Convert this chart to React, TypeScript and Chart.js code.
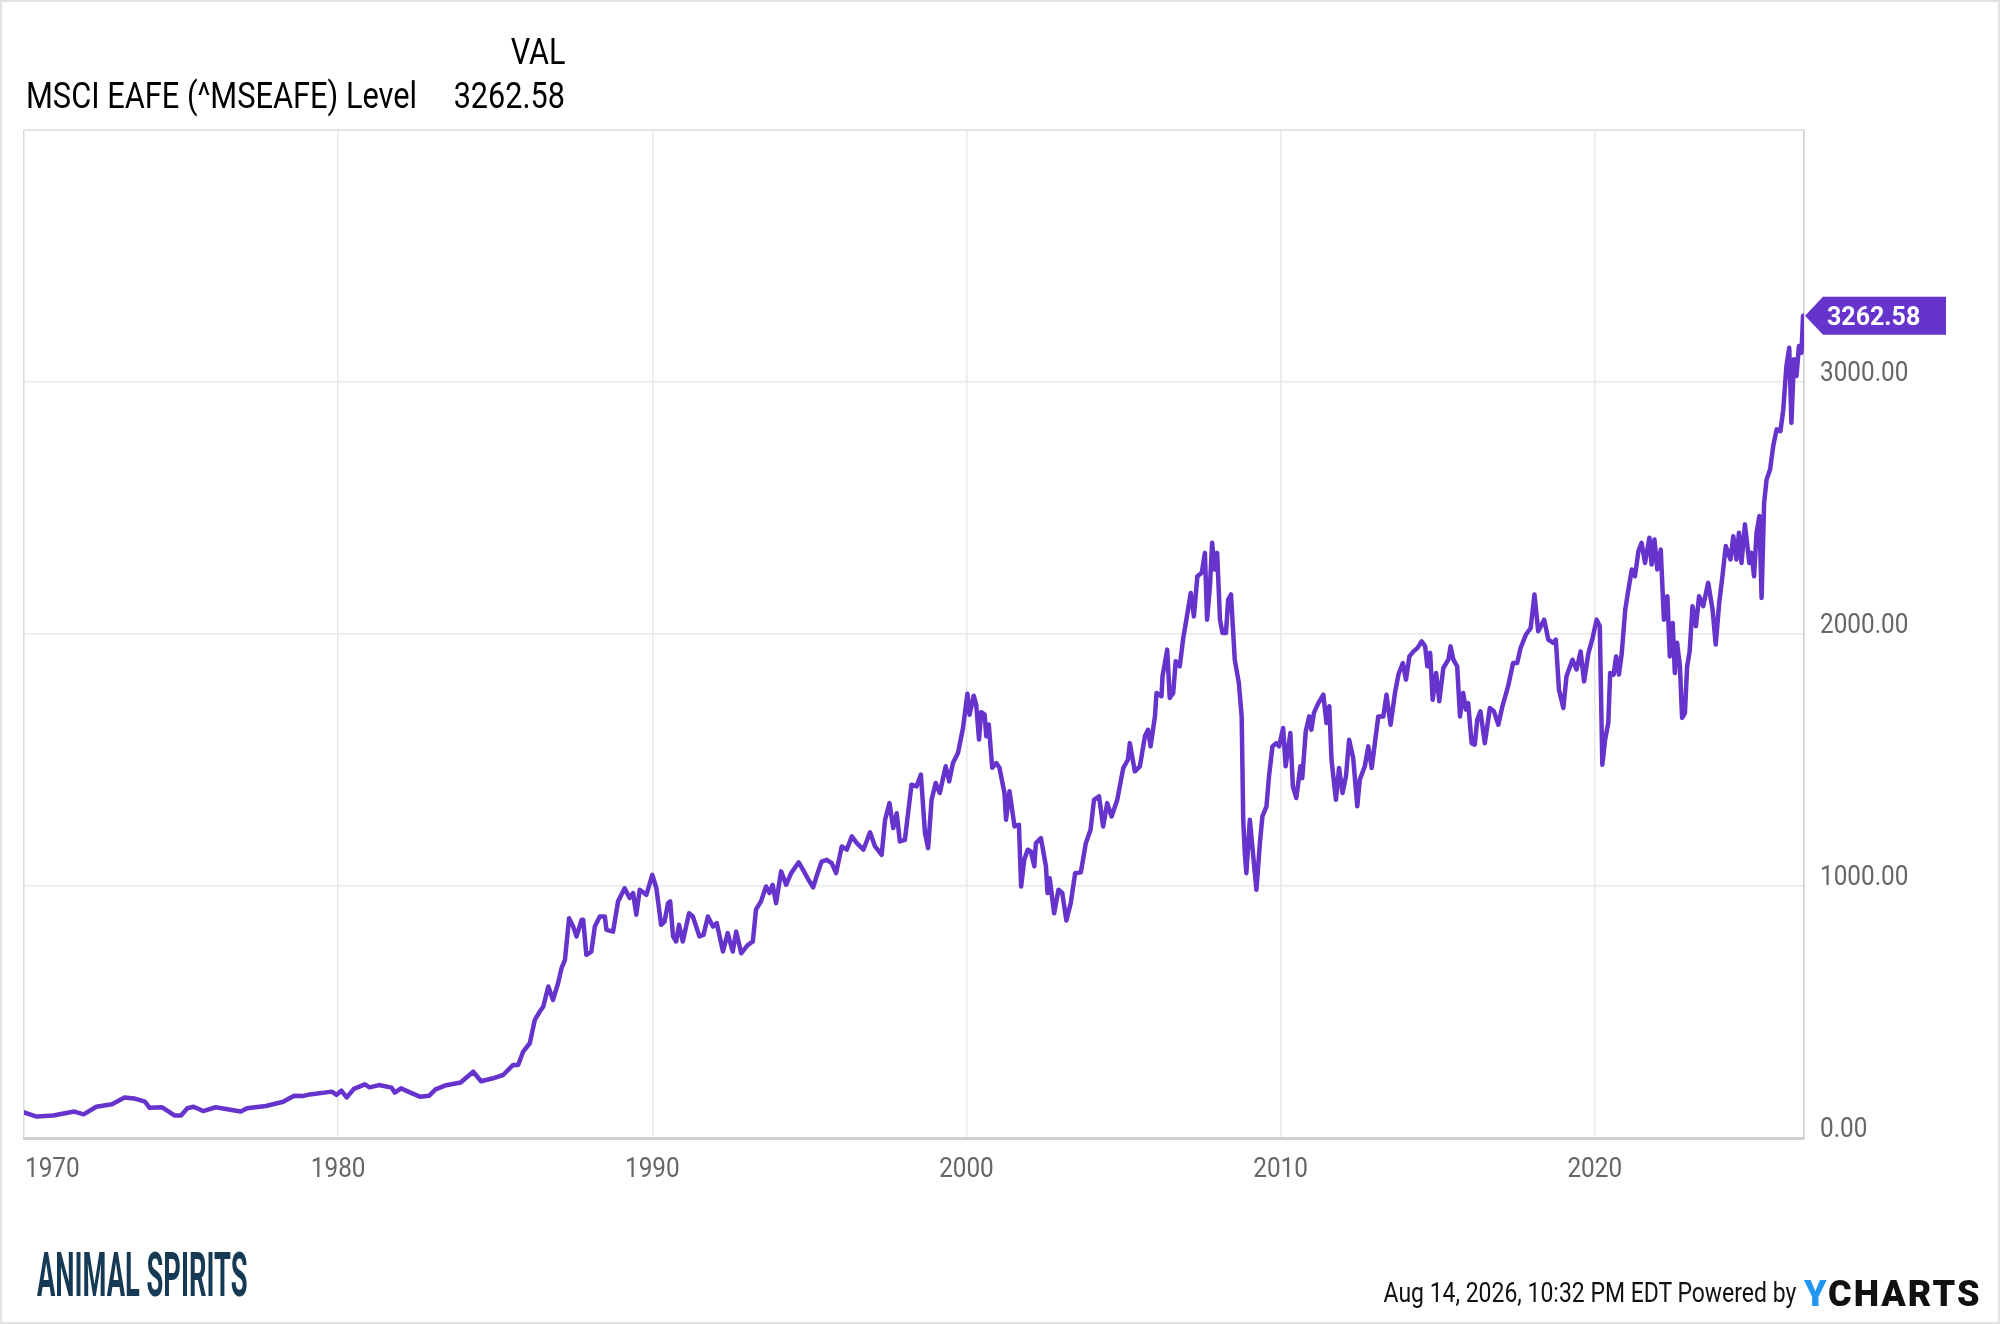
import { useEffect, useRef } from 'react';
import { Chart, registerables } from 'chart.js';

Chart.register(...registerables);

const PURPLE = '#6633cc';
const LAST_LEVEL = 3262.58;

// MSCI EAFE level, split by era (x = decimal year)
const dates1970s = [
  1970.0, 1970.4, 1970.93, 1971.6, 1971.9,
  1972.3, 1972.8, 1973.2, 1973.5, 1973.85,
  1974.0, 1974.4, 1974.8, 1975.0, 1975.2,
  1975.4, 1975.7, 1976.1, 1976.9, 1977.1,
  1977.7, 1978.25, 1978.6, 1978.9, 1979.1,
  1979.8, 1979.95, 1980.1, 1980.27, 1980.5,
  1980.85, 1981.0, 1981.3, 1981.7, 1981.8,
  1982.0, 1982.3, 1982.6, 1982.9, 1983.1,
  1983.4, 1983.9, 1984.3,
];
const levels1970s = [
  102, 85, 89, 105, 94,
  124, 134, 161, 157, 144,
  120, 122, 89, 89, 118,
  124, 107, 122, 105, 118,
  127, 144, 168, 167, 173,
  184, 171, 188, 161, 195,
  213, 201, 210, 200, 180,
  197, 180, 164, 168, 193,
  208, 220, 263,
];

const dates1980s = [
  1984.55, 1984.93, 1985.25, 1985.57, 1985.73,
  1985.89, 1986.1, 1986.26, 1986.42, 1986.53,
  1986.69, 1986.84, 1987.0, 1987.11, 1987.22,
  1987.35, 1987.48, 1987.59, 1987.75, 1987.8,
  1987.9, 1988.06, 1988.17, 1988.33, 1988.49,
  1988.54, 1988.75, 1988.91, 1989.12, 1989.28,
  1989.39, 1989.49, 1989.6, 1989.81, 1990.0,
  1990.13, 1990.28, 1990.39, 1990.5, 1990.57,
  1990.66, 1990.76, 1990.85, 1990.97, 1991.17,
  1991.29, 1991.5, 1991.63, 1991.77, 1991.93,
  1992.05, 1992.25, 1992.4, 1992.56, 1992.67,
  1992.83, 1993.04, 1993.2, 1993.3, 1993.46,
  1993.62, 1993.73, 1993.83, 1993.94, 1994.1,
  1994.26, 1994.42, 1994.66,
];
const levels1980s = [
  225, 237, 250, 290, 290,
  343, 376, 469, 502, 522,
  601, 548, 614, 674, 707,
  872, 839, 800, 866, 866,
  727, 740, 839, 879, 879,
  826, 819, 939, 991, 952,
  972, 886, 985, 965, 1044,
  991, 846, 859, 932, 939,
  800, 780, 846, 780, 892,
  879, 800, 806, 879, 839,
  853, 740, 813, 740, 819,
  733, 766, 780, 906, 939,
  998, 972, 1005, 932, 1058,
  1005, 1051, 1094,
];

const dates1990s = [
  1994.8, 1994.97, 1995.12, 1995.28, 1995.39,
  1995.55, 1995.71, 1995.85, 1996.03, 1996.19,
  1996.35, 1996.51, 1996.72, 1996.93, 1997.09,
  1997.3, 1997.41, 1997.55, 1997.67, 1997.78,
  1997.88, 1998.04, 1998.25, 1998.41, 1998.55,
  1998.68, 1998.78, 1998.89, 1999.02, 1999.15,
  1999.34, 1999.45, 1999.57, 1999.73, 1999.89,
  2000.03, 2000.1, 2000.23, 2000.31, 2000.4,
  2000.47, 2000.58, 2000.63, 2000.71, 2000.82,
  2000.95, 2001.05, 2001.21, 2001.26, 2001.37,
  2001.53, 2001.67, 2001.74, 2001.84, 2001.95,
  2002.05, 2002.16, 2002.21, 2002.37, 2002.53,
  2002.58, 2002.65, 2002.79, 2002.93, 2003.05,
  2003.18, 2003.32, 2003.46, 2003.64, 2003.8,
  2003.95, 2004.06, 2004.22, 2004.35, 2004.48,
  2004.62, 2004.8,
];
const levels1990s = [
  1064, 1025, 995, 1058, 1097,
  1104, 1091, 1051, 1157, 1144,
  1197, 1170, 1144, 1213, 1157,
  1124, 1263, 1329, 1230, 1289,
  1177, 1183, 1402, 1395, 1442,
  1210, 1150, 1342, 1409, 1369,
  1475, 1415, 1488, 1528, 1627,
  1763, 1680, 1755, 1720, 1581,
  1690, 1680, 1594, 1641, 1469,
  1488, 1469, 1369, 1263, 1376,
  1236, 1243, 998, 1104, 1144,
  1137, 1078, 1170, 1190, 1078,
  972, 1031, 892, 985, 972,
  863, 932, 1051, 1054, 1170,
  1223, 1342, 1356, 1236, 1329,
  1276, 1342,
];

const dates2000s = [
  2004.99, 2005.14, 2005.2, 2005.36, 2005.52,
  2005.68, 2005.78, 2005.86, 2006.0, 2006.05,
  2006.21, 2006.24, 2006.39, 2006.47, 2006.58,
  2006.66, 2006.79, 2006.9, 2007.0, 2007.14,
  2007.24, 2007.35, 2007.49, 2007.59, 2007.66,
  2007.75, 2007.82, 2007.9, 2007.98, 2008.07,
  2008.15, 2008.26, 2008.33, 2008.42, 2008.54,
  2008.67, 2008.76, 2008.81, 2008.86, 2008.91,
  2009.02, 2009.13, 2009.23, 2009.34, 2009.42,
  2009.55, 2009.63, 2009.74, 2009.86, 2009.95,
  2010.08, 2010.16, 2010.31, 2010.39, 2010.5,
  2010.63, 2010.69, 2010.8, 2010.91, 2010.98,
  2011.06, 2011.2, 2011.36, 2011.46, 2011.55,
  2011.62, 2011.76, 2011.86, 2011.97, 2012.08,
  2012.18, 2012.31, 2012.44, 2012.52, 2012.68,
  2012.79, 2012.9, 2013.0, 2013.11, 2013.27,
  2013.37, 2013.5, 2013.64, 2013.75, 2013.89,
  2013.99, 2014.1, 2014.23, 2014.36, 2014.49,
  2014.6, 2014.67, 2014.76, 2014.84, 2014.95,
  2015.05,
];
const levels2000s = [
  1468, 1501, 1567, 1455, 1475,
  1594, 1620, 1554, 1673, 1766,
  1753, 1832, 1938, 1746, 1766,
  1892, 1872, 1984, 2057, 2163,
  2070, 2229, 2243, 2322, 2057,
  2190, 2362, 2256, 2322, 2057,
  2004, 2004, 2136, 2157, 1898,
  1806, 1673, 1263, 1130, 1051,
  1263, 1117, 985, 1170, 1276,
  1316, 1435, 1554, 1567, 1554,
  1627, 1475, 1607, 1395, 1349,
  1475, 1428, 1614, 1673, 1620,
  1687, 1726, 1759, 1647, 1713,
  1501, 1342, 1468, 1369, 1435,
  1580, 1508, 1316, 1422, 1475,
  1554, 1468, 1567, 1673, 1673,
  1759, 1640, 1766, 1839, 1885,
  1819, 1911, 1931, 1945, 1971,
  1951, 1872, 1925, 1739, 1845,
  1733,
];

const dates2010s = [
  2015.18, 2015.34, 2015.41, 2015.5, 2015.62,
  2015.71, 2015.81, 2015.9, 2015.97, 2016.08,
  2016.18, 2016.26, 2016.36, 2016.5, 2016.66,
  2016.79, 2016.93, 2017.06, 2017.24, 2017.4,
  2017.53, 2017.64, 2017.81, 2017.96, 2018.08,
  2018.2, 2018.39, 2018.52, 2018.68, 2018.76,
  2018.86, 2019.0, 2019.1, 2019.29, 2019.42,
  2019.55, 2019.66, 2019.8, 2019.93, 2020.06,
  2020.16, 2020.24, 2020.33, 2020.43, 2020.49,
  2020.6, 2020.68, 2020.77, 2020.86, 2020.97,
  2021.07, 2021.18, 2021.28, 2021.39, 2021.49,
  2021.6, 2021.74, 2021.81, 2021.9, 2021.99,
  2022.1, 2022.2, 2022.31, 2022.39, 2022.48,
  2022.55, 2022.62, 2022.71, 2022.78, 2022.87,
  2022.94, 2023.02, 2023.11, 2023.22, 2023.32,
  2023.45, 2023.61, 2023.75, 2023.85, 2023.96,
  2024.07, 2024.17, 2024.32, 2024.41, 2024.51,
  2024.59, 2024.67, 2024.78, 2024.92, 2024.99,
  2025.07, 2025.15, 2025.24, 2025.31, 2025.39,
  2025.47, 2025.58, 2025.68, 2025.79, 2025.91,
  2026.0, 2026.1, 2026.19, 2026.26, 2026.34,
  2026.42, 2026.5, 2026.58, 2026.63,
];
const levels2010s = [
  1865, 1898, 1951, 1898, 1872,
  1673, 1766, 1700, 1726, 1567,
  1561, 1660, 1693, 1567, 1706,
  1693, 1640, 1713, 1792, 1885,
  1885, 1945, 1998, 2024, 2157,
  2011, 2057, 1978, 1965, 1978,
  1779, 1706, 1832, 1898, 1859,
  1931, 1812, 1925, 1984, 2057,
  2031, 1481, 1581, 1647, 1845,
  1839, 1911, 1839, 1925, 2097,
  2176, 2256, 2229, 2329, 2362,
  2282, 2382, 2276, 2375, 2256,
  2335, 2057, 2150, 1911, 2044,
  1845, 1965, 1872, 1667, 1686,
  1872, 1931, 2110, 2031, 2150,
  2110, 2203, 2097, 1958, 2123,
  2236, 2349, 2296, 2388, 2296,
  2402, 2282, 2435, 2282, 2322,
  2229, 2402, 2468, 2143, 2520,
  2613, 2653, 2746, 2812, 2805,
  2891, 3063, 3136, 2838, 3090,
  3024, 3143, 3116, LAST_LEVEL,
];

const xTickYears = [1970, 1980, 1990, 2000, 2010, 2020];
const yTickLevels = [0, 1000, 2000, 3000];

const dates = [...dates1970s, ...dates1980s, ...dates1990s, ...dates2000s, ...dates2010s];
const levels = [...levels1970s, ...levels1980s, ...levels1990s, ...levels2000s, ...levels2010s];

function drawSqueezed(ctx: CanvasRenderingContext2D, text: string, x: number, y: number, sx: number) {
  ctx.save();
  ctx.translate(x, y);
  ctx.scale(sx, 1);
  ctx.textAlign = 'left';
  ctx.textBaseline = 'alphabetic';
  ctx.fillText(text, 0, 0);
  ctx.restore();
}

const ychartsDecor = {
  id: 'ychartsDecor',
  beforeDatasetsDraw(chart: any) {
    const { ctx, chartArea } = chart;
    ctx.save();
    ctx.strokeStyle = '#dcdcdc';
    ctx.lineWidth = 1.5;
    ctx.beginPath();
    ctx.moveTo(chartArea.left, chartArea.top);
    ctx.lineTo(chartArea.right, chartArea.top);
    ctx.stroke();
    ctx.restore();
  },
  afterDatasetsDraw(chart: any) {
    const { ctx, chartArea, scales } = chart;
    const x = scales.x;
    const y = scales.y;
    ctx.save();
    ctx.fillStyle = '#666666';
    ctx.font = '27px Roboto';
    const sx = 0.9;

    yTickLevels.forEach((v) => {
      const py = y.getPixelForValue(v);
      drawSqueezed(ctx, v.toFixed(2), chartArea.right + 16, py - 1.5, sx);
    });

    xTickYears.forEach((yr, i) => {
      const px = x.getPixelForValue(yr);
      const w = ctx.measureText(String(yr)).width * sx;
      const left = i === 0 ? chartArea.left + 1 : px - w / 2;
      drawSqueezed(ctx, String(yr), left, chartArea.bottom + 38.5, sx);
    });

    // last value flag
    const ty = y.getPixelForValue(LAST_LEVEL);
    const tx = chartArea.right + 1;
    ctx.fillStyle = PURPLE;
    ctx.beginPath();
    ctx.moveTo(tx, ty);
    ctx.lineTo(tx + 18, ty - 19);
    ctx.lineTo(tx + 141, ty - 19);
    ctx.lineTo(tx + 141, ty + 19);
    ctx.lineTo(tx + 18, ty + 19);
    ctx.closePath();
    ctx.fill();
    ctx.fillStyle = '#ffffff';
    ctx.font = 'bold 25px Roboto';
    drawSqueezed(ctx, LAST_LEVEL.toFixed(2), tx + 22, ty + 9, 1);
    ctx.restore();
  },
};

type TxtProps = {
  text: string;
  x: number;
  y: number;
  size: number;
  sx?: number;
  align?: 'left' | 'right';
  weight?: number;
  color?: string;
  spacing?: number;
};

function Txt({ text, x, y, size, sx = 1, align = 'left', weight = 400, color = '#000', spacing = 0 }: TxtProps) {
  const pos = align === 'left' ? { left: x } : { right: 2000 - x };
  return (
    <div
      style={{
        position: 'absolute',
        top: y - size / 2,
        ...pos,
        fontSize: size,
        lineHeight: `${size}px`,
        fontWeight: weight,
        color,
        whiteSpace: 'nowrap',
        letterSpacing: spacing,
        transform: `scaleX(${sx})`,
        transformOrigin: align === 'left' ? 'left center' : 'right center',
      }}
    >
      {text}
    </div>
  );
}

export default function App() {
  const canvasRef = useRef<HTMLCanvasElement>(null);
  const chartRef = useRef<Chart | null>(null);

  useEffect(() => {
    if (!canvasRef.current) return;
    if (chartRef.current) chartRef.current.destroy();

    const points = dates.map((d, i) => ({ x: d, y: levels[i] }));
    const gridColor = '#e8e8e8';

    chartRef.current = new Chart(canvasRef.current, {
      type: 'line',
      data: {
        datasets: [{
          data: points,
          borderColor: PURPLE,
          borderWidth: 4.5,
          pointRadius: 0,
          tension: 0,
          borderJoinStyle: 'round',
          borderCapStyle: 'round',
        }],
      },
      options: {
        animation: false,
        responsive: false,
        events: [],
        layout: { padding: { left: 24, top: 130, right: 16, bottom: 186 } },
        plugins: {
          legend: { display: false },
          tooltip: { enabled: false },
        },
        scales: {
          x: {
            type: 'linear',
            min: 1970,
            max: 2026.66,
            afterBuildTicks: (scale: any) => {
              scale.ticks = xTickYears.map((value) => ({ value }));
            },
            afterFit: (scale: any) => {
              scale.height = 0;
            },
            ticks: { display: false },
            grid: {
              color: (c: any) => (c.index === 0 ? '#d8d8d8' : gridColor),
              lineWidth: 1.5,
              drawTicks: false,
            },
            border: { color: '#cfcfcf', width: 3 },
          },
          y: {
            position: 'right',
            min: 0,
            max: 4000,
            afterBuildTicks: (scale: any) => {
              scale.ticks = yTickLevels.map((value) => ({ value }));
            },
            afterFit: (scale: any) => {
              scale.width = 180;
            },
            ticks: { display: false },
            grid: { color: gridColor, lineWidth: 1.5, drawTicks: false },
            border: { color: '#cccccc', width: 1.5 },
          },
        },
      },
      plugins: [ychartsDecor],
    });

    return () => {
      if (chartRef.current) {
        chartRef.current.destroy();
        chartRef.current = null;
      }
    };
  }, []);

  return (
    <div
      style={{
        position: 'absolute',
        left: 0,
        top: 0,
        width: 2000,
        height: 1324,
        background: '#fff',
        fontFamily: 'Roboto, sans-serif',
        overflow: 'hidden',
      }}
    >
      <canvas
        ref={canvasRef}
        width={2000}
        height={1324}
        style={{ position: 'absolute', left: 0, top: 0, width: 2000, height: 1324 }}
      />

      <Txt text="VAL" x={565} y={52} size={36} sx={0.85} align="right" />
      <Txt text="MSCI EAFE (^MSEAFE) Level" x={26} y={96} size={36} sx={0.855} />
      <Txt text="3262.58" x={565} y={96} size={36} sx={0.85} align="right" />

      <Txt text="ANIMAL SPIRITS" x={37} y={1275} size={62} sx={0.44} weight={700} color="#173a54" />

      <Txt text="Aug 14, 2026, 10:32 PM EDT Powered by" x={1796} y={1293} size={28} sx={0.82} align="right" color="#111" />
      <div
        style={{
          position: 'absolute',
          left: 1804,
          top: 1294 - 18,
          fontSize: 36,
          lineHeight: '36px',
          fontWeight: 900,
          letterSpacing: 2,
          whiteSpace: 'nowrap',
        }}
      >
        <span style={{ color: '#2196f3' }}>Y</span>
        <span style={{ color: '#111' }}>CHARTS</span>
      </div>

      <div
        style={{
          position: 'absolute',
          inset: 0,
          border: '2px solid #e2e2e2',
          pointerEvents: 'none',
        }}
      />
    </div>
  );
}
